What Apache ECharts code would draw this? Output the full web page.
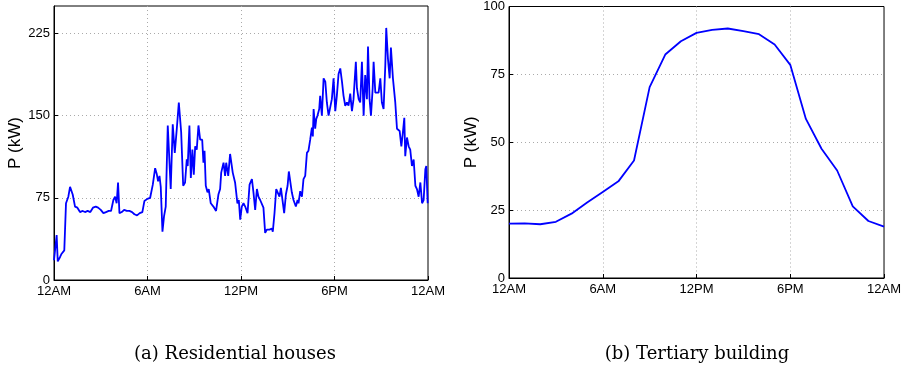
<!DOCTYPE html>
<html>
<head>
<meta charset="utf-8">
<script src="https://cdn.jsdelivr.net/npm/echarts@6/dist/echarts.min.js"></script>
<style>
html,body{margin:0;padding:0;background:#fff;}
#c{width:904px;height:366px;}
</style>
</head>
<body>
<div id="c"></div>
<script>
// Hour-of-day tick labels
const hourTicks = [0, 6, 12, 18, 24];
const hourLabels = ['12AM', '6AM', '12PM', '6PM', '12AM'];

// (a) Residential houses: time (hours) and load (kW)
const resHours = [0.00,0.09,0.17,0.24,0.39,0.49,0.66,0.77,0.92,1.03,1.20,1.35,1.50,1.67,1.84,1.99,2.16,2.33,2.50,2.68,2.83,3.00,3.17,3.34,3.51,3.66,3.81,3.92,4.02,4.11,4.20,4.35,4.50,4.67,4.84,5.01,5.16,5.33,5.50,5.67,5.80,5.99,6.17,6.34,6.49,6.59,6.68,6.77,6.85,6.96,7.06,7.17,7.30,7.49,7.62,7.75,7.88,8.01,8.16,8.29,8.41,8.52,8.58,8.69,8.78,8.88,8.97,9.06,9.16,9.27,9.38,9.51,9.59,9.66,9.74,9.85,9.93,10.06,10.23,10.40,10.55,10.66,10.73,10.88,10.98,11.05,11.18,11.30,11.47,11.62,11.77,11.86,11.95,12.05,12.16,12.27,12.42,12.55,12.70,12.80,12.91,13.02,13.12,13.23,13.34,13.44,13.55,13.66,13.83,13.98,14.04,14.15,14.26,14.37,14.47,14.56,14.69,14.77,14.88,14.99,15.07,15.16,15.26,15.37,15.46,15.52,15.63,15.69,15.80,15.91,16.01,16.12,16.23,16.33,16.44,16.55,16.61,16.66,16.76,16.83,16.91,17.02,17.08,17.19,17.30,17.41,17.51,17.62,17.73,17.83,17.94,18.05,18.15,18.26,18.37,18.48,18.58,18.69,18.80,18.90,19.01,19.12,19.22,19.37,19.44,19.55,19.65,19.76,19.87,19.97,20.08,20.15,20.25,20.34,20.45,20.51,20.62,20.72,20.83,20.94,21.04,21.15,21.26,21.32,21.43,21.54,21.62,21.75,21.90,22.01,22.18,22.29,22.39,22.48,22.54,22.65,22.76,22.86,22.97,23.08,23.19,23.29,23.40,23.51,23.62,23.72,23.83,23.89,23.98];
const resLoad = [18,17,41,17,21,24,27,70,76,85,78,67,66,62,63,62,63,62,66,67,66,64,61,62,63,63,73,76,70,89,61,62,64,63,63,62,60,59,61,62,72,74,75,87,102,97,90,95,85,44,58,67,141,83,142,116,138,162,135,86,89,110,104,141,93,119,96,122,119,141,128,128,107,118,86,80,83,70,67,63,78,83,98,107,95,107,95,115,98,89,70,73,55,67,70,67,61,87,92,80,64,83,76,73,73,66,43,46,46,47,44,61,83,82,76,84,70,61,78,86,99,98,80,73,73,67,73,70,81,76,92,95,116,118,128,139,131,156,138,147,150,156,168,150,184,181,162,150,150,165,184,154,168,188,193,181,168,159,162,159,170,154,165,199,175,165,162,199,150,187,165,213,165,150,175,199,171,172,171,184,162,156,196,230,202,184,212,184,162,138,136,122,135,148,113,130,122,119,104,110,86,83,76,89,70,73,101,104,70];

// (b) Tertiary building: hourly load (kW)
const terHours = [0,1,2,3,4,5,6,7,8,9,10,11,12,13,14,15,16,17,18,19,20,21,22,23,24];
const terLoad = [20,20.1,19.8,20.7,23.7,27.8,31.7,35.6,43.3,70.3,82.3,87.2,90.3,91.4,91.9,90.9,89.8,86,78.5,58.6,47.6,39.6,26.4,21,18.9];

// captions
const captions = ['(a) Residential houses', '(b) Tertiary building'];

const chart = echarts.init(document.getElementById('c'), null, {renderer: 'canvas'});

const sansFont = 'Liberation Sans, Arial, Helvetica, sans-serif';
function hourLabel(v) {
  const i = hourTicks.indexOf(v);
  return i >= 0 ? hourLabels[i] : '';
}
const splitStyle = {show: true, showMinLine: false, showMaxLine: false, lineStyle: {color: '#aaa', type: [1, 3], width: 1}};
function xAxisCfg(gi) {
  return {
    type: 'value', gridIndex: gi, min: 0, max: 24, interval: 6,
    axisLine: {show: true, onZero: false, lineStyle: {color: '#000', width: 1}},
    axisTick: {show: true, inside: true, length: 4, lineStyle: {color: '#000'}},
    axisLabel: {color: '#000', fontSize: 13, fontFamily: sansFont, margin: 5, formatter: hourLabel, showMaxLabel: true, showMinLabel: true},
    splitLine: splitStyle
  };
}
function yAxisCfg(gi, max, interval, gap, showMax) {
  return {
    type: 'value', gridIndex: gi, min: 0, max: max, interval: interval,
    name: 'P (kW)', nameLocation: 'middle', nameGap: gap,
    nameTextStyle: {color: '#000', fontSize: 17, fontFamily: sansFont},
    axisLine: {show: true, lineStyle: {color: '#000', width: 1}},
    axisTick: {show: true, inside: true, length: 4, lineStyle: {color: '#000'}},
    axisLabel: {color: '#000', fontSize: 13, fontFamily: sansFont, margin: 4, showMaxLabel: showMax},
    splitLine: splitStyle
  };
}

chart.setOption({
  animation: false,
  backgroundColor: '#fff',
  title: [
    {text: captions[0], left: 230, top: 340, textAlign: 'center',
     textStyle: {fontFamily: 'DejaVu Serif, serif', fontWeight: 'normal', fontSize: 18, color: '#000'}},
    {text: captions[1], left: 692, top: 340, textAlign: 'center',
     textStyle: {fontFamily: 'DejaVu Serif, serif', fontWeight: 'normal', fontSize: 18, color: '#000'}}
  ],
  grid: [
    {left: 54, right: 476, top: 6, bottom: 86, show: true, borderColor: '#000', borderWidth: 1, backgroundColor: '#fff'},
    {left: 509, right: 16, top: 6, bottom: 88, show: true, borderColor: '#000', borderWidth: 1, backgroundColor: '#fff'}
  ],
  xAxis: [xAxisCfg(0), xAxisCfg(1)],
  yAxis: [yAxisCfg(0, 250, 75, 30, false), yAxisCfg(1, 100, 25, 26, true)],
  series: [
    {type: 'line', xAxisIndex: 0, yAxisIndex: 0, showSymbol: false, symbol: 'none',
     data: resHours.map((h, i) => [h, resLoad[i]]),
     lineStyle: {color: '#0000ff', width: 1.8}},
    {type: 'line', xAxisIndex: 1, yAxisIndex: 1, showSymbol: false, symbol: 'none',
     data: terHours.map((h, i) => [h, terLoad[i]]),
     lineStyle: {color: '#0000ff', width: 1.8}}
  ]
});
</script>
</body>
</html>
